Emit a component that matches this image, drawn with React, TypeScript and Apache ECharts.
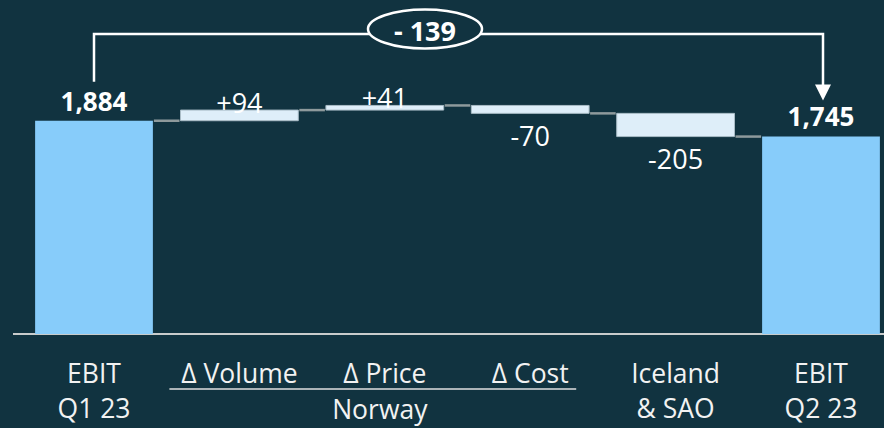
import React, { useEffect, useRef } from "react";
import * as echarts from "echarts";

const categories = ["EBIT\nQ1 23", "Δ Volume", "Δ Price", "Δ Cost", "Iceland\n& SAO", "EBIT\nQ2 23"];
const startValue = 1884;
const deltaValues = [94, 41, -70, -205];
const endValue = 1745;
const groupLabel = "Norway";
const groupFirst = 1;
const groupLast = 3;

const BG = "#113340";
const TOTAL_COLOR = "#87ccfa";
const DELTA_COLOR = "#deeef9";
const FONT = "'Open Sans', 'Noto Sans', sans-serif";

const fmtTotal = (v: number) => v.toLocaleString("en-US");
const fmtDelta = (v: number) => (v > 0 ? "+" + v : "" + v);

export default function App() {
  const ref = useRef<HTMLDivElement>(null);
  useEffect(() => {
    const chart = echarts.init(ref.current!, null, { renderer: "svg" });

    // [index, low, high, value, isTotal, levelAfter]
    const rows: number[][] = [];
    rows.push([0, 0, startValue, startValue, 1, startValue]);
    let level = startValue;
    deltaValues.forEach((d, k) => {
      const next = level + d;
      rows.push([k + 1, Math.min(level, next), Math.max(level, next), d, 0, next]);
      level = next;
    });
    rows.push([rows.length, 0, endValue, endValue, 1, endValue]);
    const n = rows.length;

    chart.setOption({
      animation: false,
      backgroundColor: BG,
      grid: {
        left: 21.3,
        width: 872.4,
        top: 51,
        height: 283,
        containLabel: false,
        outerBoundsMode: "none",
      },
      xAxis: {
        type: "category",
        data: categories,
        axisLine: { show: false },
        axisTick: { show: false },
        splitLine: { show: false },
        axisLabel: {
          color: "#f2f2f2",
          fontSize: 26.5,
          lineHeight: 35,
          margin: 21,
          fontFamily: FONT,
          interval: 0,
        },
      },
      yAxis: { type: "value", min: 0, max: 2500, show: false, splitLine: { show: false } },
      series: [
        {
          type: "custom",
          data: rows,
          encode: { x: 0, y: [1, 2] },
          renderItem: (params: any, api: any) => {
            const i = api.value(0);
            const low = api.value(1);
            const high = api.value(2);
            const v = api.value(3);
            const isTotal = api.value(4) === 1;
            const after = api.value(5);
            const pTop = api.coord([i, high]);
            const pBot = api.coord([i, low]);
            const step = api.size([1, 0])[0];
            const bw = step * 0.81;
            const children: any[] = [
              {
                type: "rect",
                shape: { x: pTop[0] - bw / 2, y: pTop[1], width: bw, height: pBot[1] - pTop[1] },
                style: isTotal
                  ? { fill: TOTAL_COLOR }
                  : { fill: DELTA_COLOR, stroke: "#a9bcc6", lineWidth: 1 },
              },
            ];
            if (i < n - 1) {
              const p = api.coord([i, after]);
              children.push({
                type: "line",
                shape: { x1: p[0] + bw / 2 + 1, y1: p[1], x2: p[0] + step - bw / 2 - 1, y2: p[1] },
                style: { stroke: "#8e9a9c", lineWidth: 2.5 },
              });
            }
            if (isTotal) {
              children.push({
                type: "text",
                style: {
                  text: fmtTotal(v),
                  x: pTop[0],
                  y: pTop[1] - 20,
                  align: "center",
                  verticalAlign: "middle",
                  fill: "#ffffff",
                  font: `bold 26px ${FONT}`,
                },
              });
            } else if (v > 0) {
              children.push({
                type: "text",
                style: {
                  text: fmtDelta(v),
                  x: pTop[0],
                  y: pTop[1] - 8,
                  align: "center",
                  verticalAlign: "middle",
                  fill: "#ffffff",
                  font: `27px ${FONT}`,
                },
              });
            } else {
              children.push({
                type: "text",
                style: {
                  text: fmtDelta(v),
                  x: pBot[0],
                  y: pBot[1] + 22,
                  align: "center",
                  verticalAlign: "middle",
                  fill: "#ffffff",
                  font: `27px ${FONT}`,
                },
              });
            }
            return { type: "group", children };
          },
        },
      ],
    });

    const px = (i: number, v: number) => chart.convertToPixel({ gridIndex: 0 }, [i, v]) as number[];
    const p0 = px(0, startValue);
    const pN = px(n - 1, endValue);
    const base = px(0, 0);
    const g1 = px(groupFirst, 0);
    const g3 = px(groupLast, 0);
    const diff = endValue - startValue;
    const lineY = 34;

    chart.setOption({
      graphic: [
        {
          type: "line",
          shape: { x1: 13, y1: base[1], x2: 884, y2: base[1] },
          style: { stroke: "#c9cccc", lineWidth: 2 },
        },
        {
          type: "polyline",
          shape: {
            points: [
              [p0[0], p0[1] - 39],
              [p0[0], lineY],
              [pN[0] + 2, lineY],
              [pN[0] + 2, pN[1] - 50],
            ],
          },
          style: { stroke: "#ffffff", lineWidth: 2.5, fill: null },
        },
        {
          type: "polygon",
          shape: {
            points: [
              [pN[0] - 6, pN[1] - 52],
              [pN[0] + 10, pN[1] - 52],
              [pN[0] + 2, pN[1] - 36],
            ],
          },
          style: { fill: "#ffffff" },
        },
        {
          type: "ellipse",
          shape: { cx: 425, cy: 29, rx: 57, ry: 19.5 },
          style: { fill: BG, stroke: "#ffffff", lineWidth: 2.5 },
        },
        {
          type: "text",
          style: {
            text: "- " + Math.abs(diff),
            x: 425,
            y: 30,
            align: "center",
            verticalAlign: "middle",
            fill: "#ffffff",
            font: `bold 27px ${FONT}`,
          },
        },
        {
          type: "line",
          shape: { x1: g1[0] - 70, y1: 389, x2: g3[0] + 46, y2: 389 },
          style: { stroke: "#e0e0e0", lineWidth: 1.5 },
        },
        {
          type: "text",
          style: {
            text: groupLabel,
            x: (g1[0] + g3[0]) / 2 - 5,
            y: 409,
            align: "center",
            verticalAlign: "middle",
            fill: "#f2f2f2",
            font: `26.5px ${FONT}`,
          },
        },
      ],
    });

    return () => chart.dispose();
  }, []);

  return (
    <div
      ref={ref}
      style={{ position: "fixed", left: 0, top: 0, width: 884, height: 428 }}
    />
  );
}
